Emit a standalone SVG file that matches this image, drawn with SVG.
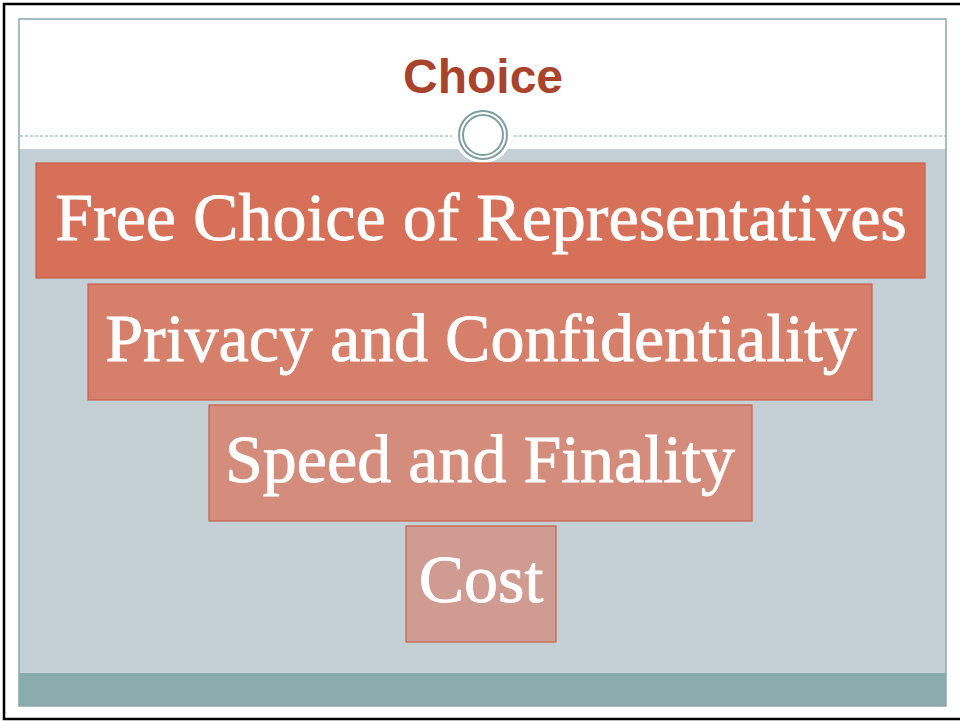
<svg xmlns="http://www.w3.org/2000/svg" width="960" height="721" viewBox="0 0 960 721">
  <style>
    .box { stroke-width: 1.2; }
    .label { font-family: "Liberation Serif", "Times New Roman", serif; font-size: 68px; fill: #ffffff; stroke: #ffffff; stroke-width: 0.8; text-anchor: middle; }
    .title { font-family: "Liberation Sans", Arial, sans-serif; font-weight: bold; font-size: 48px; fill: #a9432b; text-anchor: middle; }
  </style>

  <!-- page background and outer border -->
  <rect x="0" y="0" width="960" height="721" fill="#ffffff"/>
  <rect x="4" y="4" width="960" height="715" fill="none" stroke="#000000" stroke-width="2.5"/>

  <!-- slide frame -->
  <g id="frame">
    <rect x="19" y="19" width="927" height="687" fill="#ffffff"/>
    <rect x="19" y="149" width="927" height="524" fill="#c5d0d6"/>
    <rect x="19" y="673" width="927" height="33" fill="#8aacac"/>
    <rect x="19" y="19" width="927" height="687" fill="none" stroke="#8aa8a8" stroke-width="1.5"/>
    <line x1="20" y1="136" x2="452" y2="136" stroke="#7fa3a3" stroke-width="1" stroke-dasharray="3,2"/>
    <line x1="514" y1="136" x2="945" y2="136" stroke="#7fa3a3" stroke-width="1" stroke-dasharray="3,2"/>
    <circle cx="483" cy="134" r="29" fill="#ffffff"/>
    <circle cx="483" cy="135" r="24" fill="none" stroke="#7f9f9f" stroke-width="2"/>
    <circle cx="483" cy="135" r="20" fill="none" stroke="#7f9f9f" stroke-width="2"/>
  </g>

  <g id="title">
    <text class="title" x="483" y="93">Choice</text>
  </g>

  <g id="free-choice">
    <rect class="box" x="36" y="163" width="889" height="115" fill="#d77059" stroke="#c9604a"/>
    <text class="label" x="481" y="240">Free Choice of Representatives</text>
  </g>

  <g id="privacy">
    <rect class="box" x="88" y="284" width="784" height="116" fill="#d6806c" stroke="#c9604a"/>
    <text class="label" x="481" y="361">Privacy and Confidentiality</text>
  </g>

  <g id="speed">
    <rect class="box" x="209" y="405" width="543" height="116" fill="#d48c7c" stroke="#c9604a"/>
    <text class="label" x="480" y="482">Speed and Finality</text>
  </g>

  <g id="cost">
    <rect class="box" x="406" y="526" width="150" height="116" fill="#d09b90" stroke="#c9604a"/>
    <text class="label" x="481" y="602">Cost</text>
  </g>
</svg>
